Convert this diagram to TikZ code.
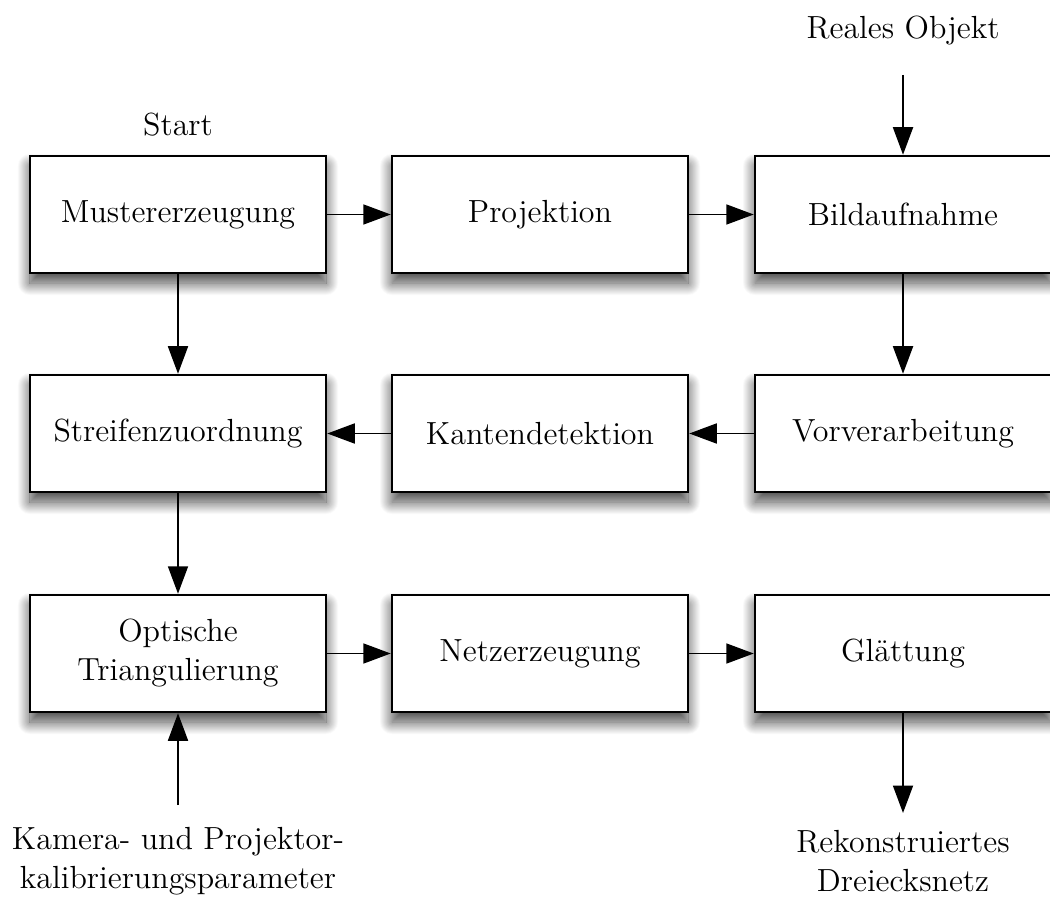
\documentclass[tikz,border=0pt]{standalone}
\usetikzlibrary{arrows.meta,shadows.blur}
\begin{document}
\begin{tikzpicture}[x=0.4pt,y=-0.4pt,
  font=\fontsize{12.8}{15.6}\selectfont,
  stepbox/.style={draw=black,line width=1pt,fill=white,
    minimum width=118.4pt,minimum height=46.8pt,align=center,inner sep=0pt,
    blur shadow={shadow xshift=0pt,shadow yshift=-4pt,shadow blur radius=5pt,
      shadow blur steps=40,shadow opacity=75}},
  flow/.style={line width=0.7pt,-{Triangle[length=11pt,width=8pt]}},
  lbl/.style={align=center,inner sep=0pt}]
\useasboundingbox (0,0) rectangle (1050,904);
% process boxes, three rows of three
\node[stepbox] (muster) at (178,214.5) {Mustererzeugung};
\node[stepbox] (proj)   at (540,214.5) {Projektion};
\node[stepbox] (bild)   at (903,214.5) {Bildaufnahme};
\node[stepbox] (streif) at (178,433.5) {Streifenzuordnung};
\node[stepbox] (kanten) at (540,433.5) {Kantendetektion};
\node[stepbox] (vorv)   at (903,433.5) {Vorverarbeitung};
\node[stepbox] (opt)    at (178,653.5) {Optische\\Triangulierung};
\node[stepbox] (netz)   at (540,653.5) {Netzerzeugung};
\node[stepbox] (glatt)  at (903,653.5) {Glättung};
% labels outside the boxes
\node[lbl] (start) at (178,125) {Start};
\node[lbl] (real) at (903,31) {Reales Objekt};
\node[lbl] (kalib) at (178,861) {Kamera- und Projektor-\\kalibrierungsparameter};
\node[lbl] (rekon) at (903,861) {Rekonstruiertes\\Dreiecksnetz};
\coordinate (realend) at (903,75);
\coordinate (kalibend) at (178,805);
\coordinate (rekonend) at (903,813);
% connectors
\draw[flow] (realend) -- (bild.north);
\draw[flow] (muster) -- (proj);
\draw[flow] (proj) -- (bild);
\draw[flow] (muster) -- (streif);
\draw[flow] (bild) -- (vorv);
\draw[flow] (vorv) -- (kanten);
\draw[flow] (kanten) -- (streif);
\draw[flow] (streif) -- (opt);
\draw[flow] (opt) -- (netz);
\draw[flow] (netz) -- (glatt);
\draw[flow] (kalibend) -- (opt.south);
\draw[flow] (glatt.south) -- (rekonend);
\end{tikzpicture}
\end{document}
